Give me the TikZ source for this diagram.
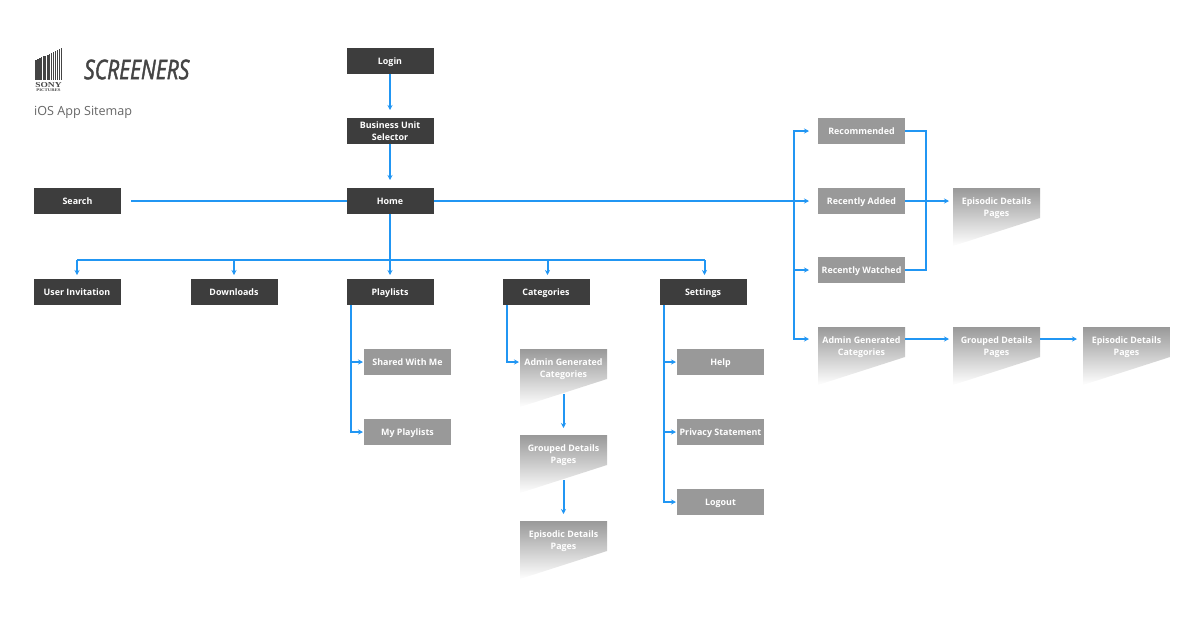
\documentclass[tikz,border=0pt]{standalone}
\usepackage{fontspec}
\setmainfont{Open Sans}
\newfontfamily\logoserif{Liberation Serif}
\newfontfamily\logotitle[ItalicFeatures={FakeBold=2}]{Open Sans}
\usetikzlibrary{positioning,calc,arrows.meta,backgrounds}
\definecolor{darkbox}{HTML}{3D3D3D}
\definecolor{lightbox}{HTML}{999999}
\definecolor{linkblue}{HTML}{2196F3}
\definecolor{logogray}{HTML}{444444}
\tikzset{
  mainbox/.style={fill=darkbox,text=white,font=\fontsize{8.9}{12}\selectfont\bfseries,minimum width=87pt,minimum height=26pt,inner sep=0pt,outer sep=0pt,align=center,text height=8.2pt,text depth=1pt},
  subbox/.style={mainbox,fill=lightbox},
  twoline/.style={text height=20pt,text depth=1.4pt},
  docbox/.style={mainbox,twoline,fill=none,minimum height=38pt},
  link/.style={draw=linkblue,line width=2pt},
  linkto/.style={link,-{Stealth[length=5pt,width=5pt]},shorten >=#1},
  linkto/.default=8pt
}
\begin{document}
\begin{tikzpicture}[x=1pt,y=-1pt]
  \useasboundingbox (0,0) rectangle (1200,625);

  % logo
  \foreach \x/\w in {35/1.7,37/1.6,39/1.6,41/1.4,43/1.5,45/1.3,47/1.5,49/1.2,51/1.2,53/1.1,55/1,57/1,59/.8,61/.8}
    \fill[logogray] (\x,{60-(\x-35)*12/27}) rectangle ({\x+\w},80);
  \node[text=logogray,font=\logoserif\fontsize{7.6}{8}\selectfont\bfseries,inner sep=0pt,xscale=1.25] (sony) at (48.5,85) {SONY};
  \node[text=logogray,font=\logoserif\fontsize{4}{5}\selectfont\bfseries,inner sep=0pt,xscale=1.2] (pictures) at (48.5,90.5) {PICTURES};
  \node[anchor=west,text=logogray,font=\logotitle\fontsize{27}{28}\selectfont\itshape,inner sep=0pt,xscale=.78] (title) at (84,69.5) {SCREENERS};
  \node[anchor=west,text=black!60,font=\fontsize{12.6}{14}\selectfont,inner sep=0pt] (subtitle) at (34,112) {iOS App Sitemap};

  % main column
  \node[mainbox] (login) at (390,61) {Login};
  \node[mainbox,twoline,below=44pt of login] (unit) {Business Unit\\Selector};
  \node[mainbox,below=44pt of unit] (home) {Home};
  \node[mainbox,left=225.5pt of home] (search) {Search};

  % second row
  \node[mainbox,below=65pt of home] (playlists) {Playlists};
  \node[mainbox,left=69pt of playlists] (downloads) {Downloads};
  \node[mainbox,left=70pt of downloads] (invite) {User Invitation};
  \node[mainbox,right=69pt of playlists] (categories) {Categories};
  \node[mainbox,right=70pt of categories] (settings) {Settings};

  % under playlists
  \node[subbox] (shared) at (407.5,362) {Shared With Me};
  \node[subbox,below=44pt of shared] (mine) {My Playlists};

  % under categories
  \node[docbox,anchor=north] (catadmin) at (563.5,349) {Admin Generated\\Categories};
  \node[docbox,anchor=north] (catgroup) at (563.5,435) {Grouped Details\\Pages};
  \node[docbox,anchor=north] (catepisode) at (563.5,521) {Episodic Details\\Pages};

  % under settings
  \node[subbox] (help) at (720.5,362) {Help};
  \node[subbox,below=44pt of help] (privacy) {Privacy Statement};
  \node[subbox,below=44pt of privacy] (logout) {Logout};

  % right hand side
  \node[subbox] (recommended) at (861.5,131) {Recommended};
  \node[subbox,below=44pt of recommended] (added) {Recently Added};
  \node[subbox,below=43pt of added] (watched) {Recently Watched};
  \node[docbox,anchor=north] (sideadmin) at (861.5,327) {Admin Generated\\Categories};
  \node[docbox,anchor=north] (sideepisode) at (996.5,188) {Episodic Details\\Pages};
  \node[docbox,anchor=north] (sidegroup) at (996.5,327) {Grouped Details\\Pages};
  \node[docbox,anchor=north] (farepisode) at (1126.5,327) {Episodic Details\\Pages};

  \begin{scope}[on background layer]
    \foreach \n in {catadmin,catgroup,catepisode,sideadmin,sideepisode,sidegroup,farepisode}
      \shade[top color=lightbox,bottom color=white] (\n.north west) -- (\n.north east) -- ++(0,30) -- ($(\n.north west)+(0,58)$) -- cycle;
  \end{scope}

  \coordinate (bus) at (390,260);
  \coordinate (sidetrunk) at (794,201);
  \coordinate (sidejoin) at (926,201);

  \draw[linkto] (login) -- (unit);
  \draw[linkto] (unit) -- (home);
  \draw[link,shorten <=10pt] (search) -- (home);
  \draw[link] (home) -- (bus);
  \draw[link] (invite.north |- bus) -- ($(settings.north |- bus)+(1.5,0)$);
  \foreach \n in {invite,downloads,playlists}
    \draw[linkto=4pt] (\n.north |- bus) -- (\n.north);
  \draw[linkto=4pt] ($(categories.north |- bus)+(1.5,0)$) -- ($(categories.north)+(1.5,0)$);
  \draw[linkto=4pt] ($(settings.north |- bus)+(1.5,0)$) -- ($(settings.north)+(1.5,0)$);

  \draw[linkto=1pt] ($(playlists.south west)+(4,0)$) |- (shared.west);
  \draw[linkto=1pt] ($(playlists.south west)+(4,0)$) |- (mine.west);

  \draw[linkto=1pt] ($(categories.south west)+(4,0)$) |- ($(catadmin.north west)+(0,13)$);
  \draw[linkto=7pt,shorten <=7pt] (catadmin) -- (catgroup);
  \draw[linkto=7pt,shorten <=7pt] (catgroup) -- (catepisode);

  \draw[linkto=1pt] ($(settings.south west)+(4,0)$) |- (help.west);
  \draw[linkto=1pt] ($(settings.south west)+(4,0)$) |- (privacy.west);
  \draw[linkto=1pt] ($(settings.south west)+(4,0)$) |- (logout.west);

  \draw[linkto=9pt] (home) -- (added);
  \draw[linkto=9pt] (sidetrunk) |- (recommended.west);
  \draw[linkto=9pt] (sidetrunk) |- (watched.west);
  \draw[linkto=9pt] (sidetrunk) |- ($(sideadmin.north west)+(0,12)$);
  \draw[link] (recommended.east) -| (sidejoin) |- (watched.east);
  \draw[linkto=4pt] (added) -- ($(sideepisode.north west)+(0,13)$);
  \draw[linkto=4pt] ($(sideadmin.north east)+(0,12)$) -- ($(sidegroup.north west)+(0,12)$);
  \draw[linkto=6pt] ($(sidegroup.north east)+(0,12)$) -- ($(farepisode.north west)+(0,12)$);
\end{tikzpicture}
\end{document}
